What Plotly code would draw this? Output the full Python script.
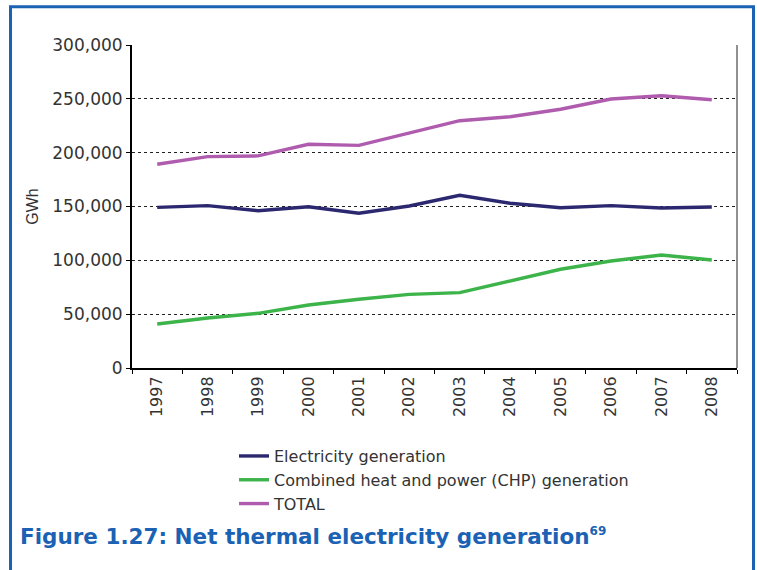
import plotly.graph_objects as go

# 数据（从参考图读取，单位 GWh）
years = ["1997", "1998", "1999", "2000", "2001", "2002",
         "2003", "2004", "2005", "2006", "2007", "2008"]
electricity = [149200, 150800, 146100, 149800, 143700, 150500,
               160400, 153000, 148900, 150800, 148600, 149500]
chp = [40900, 46400, 50800, 58500, 63800, 68400,
       70000, 80800, 91700, 99400, 105000, 100300]
total = [189200, 196300, 197000, 207800, 206800, 218600,
         229700, 233400, 240300, 249800, 252900, 249200]

series_names = ["Electricity generation",
                "Combined heat and power (CHP) generation",
                "TOTAL"]
series_colors = ["#2b2870", "#3cb44a", "#b05cae"]

y_ticks = [0, 50000, 100000, 150000, 200000, 250000, 300000]
y_tick_text = ["0", "50,000", "100,000", "150,000", "200,000", "250,000", "300,000"]

BLUE = "#1b62b4"
TXT = "#333333"
FONT = "DejaVu Sans, Arial, sans-serif"

fig = go.Figure()
for name, vals, col in zip(series_names, [electricity, chp, total], series_colors):
    fig.add_trace(go.Scatter(
        x=years, y=vals, name=name, mode="lines",
        line=dict(color=col, width=3.4)
    ))

fig.update_layout(
    width=757, height=570,
    margin=dict(l=132, r=20, t=45, b=202),
    paper_bgcolor="white", plot_bgcolor="white",
    font=dict(family=FONT, color=TXT),
    showlegend=True,
    legend=dict(
        x=0.1686, y=-0.22, xanchor="left", yanchor="top",
        font=dict(family=FONT, size=16, color=TXT),
        bgcolor="rgba(0,0,0,0)", tracegroupgap=0, itemwidth=30
    ),
)

fig.update_xaxes(
    type="category", tickson="boundaries", range=[-0.5, len(years) - 0.5],
    showline=True, linecolor="black", linewidth=2,
    ticks="outside", ticklen=4, tickcolor="black", tickwidth=1,
    tickangle=-90, tickfont=dict(size=16, color=TXT),
    showgrid=False, zeroline=False,
)
fig.update_yaxes(
    range=[0, 300000], tickvals=y_ticks, ticktext=y_tick_text,
    showline=True, linecolor="black", linewidth=2,
    ticks="outside", ticklen=4, tickcolor="black", tickwidth=1,
    tickfont=dict(size=17, color=TXT),
    showgrid=True, gridcolor="#222222", griddash="dot", gridwidth=1,
    zeroline=False,
    title=dict(text="GWh", font=dict(family="Liberation Sans, Arial, sans-serif", size=16, color=TXT), standoff=10),
)

# 右侧细边框
fig.add_shape(type="line", xref="paper", yref="paper", x0=1, x1=1, y0=0, y1=1,
              line=dict(color="#222222", width=1))

# 外部蓝色边框（底部超出画面）
fig.add_shape(type="rect", xref="paper", yref="paper",
              x0=-0.2008, x1=1.0273, y0=-0.75, y1=1.1186,
              line=dict(color=BLUE, width=3), layer="above")

# 图标题
fig.add_annotation(
    xref="paper", yref="paper", x=-0.188, y=-0.523,
    xanchor="left", yanchor="middle", showarrow=False,
    text="<b>Figure 1.27: Net thermal electricity generation"
         "<sup><span style='font-size:12px'>69</span></sup></b>",
    font=dict(family=FONT, size=21.5, color=BLUE),
)

# 去掉页面默认 8px 边距，使图与窗口对齐
fig.write_html("out.html", config={"displayModeBar": False},
               post_script="document.body.style.margin='0px';")
